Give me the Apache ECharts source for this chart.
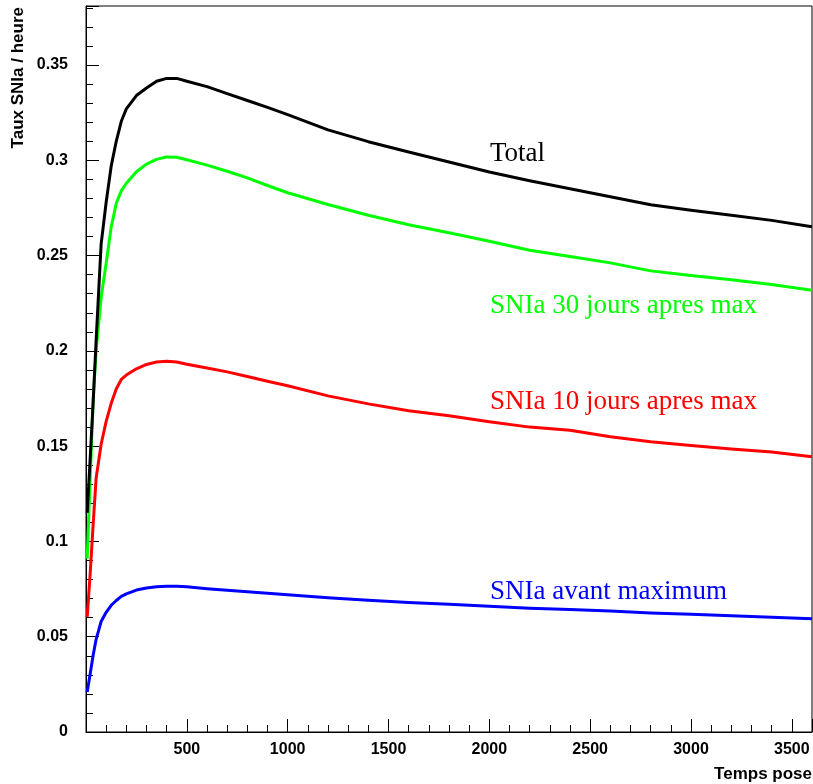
<!DOCTYPE html>
<html>
<head>
<meta charset="utf-8">
<script src="https://cdn.jsdelivr.net/npm/echarts@6/dist/echarts.min.js"></script>
<style>html,body{margin:0;padding:0;background:#fff;}#c{width:813px;height:784px;}</style>
</head>
<body>
<div id="c"></div>
<script>
const timeX = [6, 20, 35, 50, 75, 100, 125, 150, 175, 200, 250, 300, 350, 400, 450, 500, 600, 700, 800, 900, 1000, 1200, 1400, 1600, 1800, 2000, 2200, 2400, 2600, 2800, 3000, 3200, 3400, 3600];
const totalY = [0.115, 0.142, 0.172, 0.205, 0.256, 0.278, 0.297, 0.310, 0.3205, 0.327, 0.334, 0.338, 0.3415, 0.343, 0.343, 0.3415, 0.3387, 0.335, 0.3314, 0.3278, 0.324, 0.316, 0.3098, 0.3044, 0.2991, 0.2939, 0.2893, 0.2851, 0.2809, 0.2767, 0.2738, 0.2712, 0.2685, 0.2651];
const jours30Y = [0.091, 0.131, 0.173, 0.200, 0.228, 0.246, 0.265, 0.2775, 0.284, 0.288, 0.294, 0.298, 0.3005, 0.3018, 0.3016, 0.3003, 0.2975, 0.2943, 0.2908, 0.2868, 0.283, 0.2768, 0.2712, 0.2662, 0.262, 0.2575, 0.2528, 0.2495, 0.2462, 0.242, 0.2396, 0.2373, 0.2349, 0.2318];
const jours10Y = [0.0604, 0.082, 0.108, 0.133, 0.151, 0.163, 0.1725, 0.180, 0.185, 0.1873, 0.1906, 0.1929, 0.1942, 0.1946, 0.1942, 0.193, 0.191, 0.189, 0.1866, 0.1841, 0.1817, 0.1764, 0.1722, 0.1686, 0.166, 0.1628, 0.160, 0.1584, 0.155, 0.1523, 0.1504, 0.1485, 0.147, 0.1444];
const avantY = [0.021, 0.030, 0.040, 0.0485, 0.058, 0.0628, 0.0665, 0.069, 0.0712, 0.0725, 0.0745, 0.0756, 0.0762, 0.0765, 0.0765, 0.0762, 0.0752, 0.0744, 0.0736, 0.0728, 0.072, 0.0705, 0.0692, 0.068, 0.067, 0.066, 0.065, 0.0643, 0.0635, 0.0625, 0.0618, 0.061, 0.0602, 0.0594];
const seriesNames = ['Total', 'SNIa 30 jours apres max', 'SNIa 10 jours apres max', 'SNIa avant maximum'];
const seriesColors = ['#000000', '#00ff00', '#ff0000', '#0000ff'];
const xTitle = 'Temps pose';
const yTitle = 'Taux SNIa / heure';

const allY = [totalY, jours30Y, jours10Y, avantY];
const chart = echarts.init(document.getElementById('c'), null, {renderer: 'canvas'});
const labelFont = {fontFamily: 'Liberation Sans, Arial, sans-serif', fontWeight: 'bold', fontSize: 16, color: '#000'};
const labelYs = [152, 304, 400, 590];

chart.setOption({
  animation: false,
  backgroundColor: '#fff',
  grid: {left: 86, right: 1, top: 6, bottom: 52, show: true, borderColor: '#000', borderWidth: 1, backgroundColor: 'transparent', containLabel: false, outerBoundsMode: 'none'},
  xAxis: {
    type: 'value', min: 0, max: 3600, interval: 500,
    axisLine: {show: true, lineStyle: {color: '#000', width: 1}},
    axisTick: {show: true, inside: true, length: 13, lineStyle: {color: '#000'}},
    minorTick: {show: true, splitNumber: 5, length: 7, lineStyle: {color: '#000'}},
    splitLine: {show: false},
    axisLabel: Object.assign({margin: 10, showMinLabel: false, showMaxLabel: false, formatter: v => String(v)}, labelFont)
  },
  yAxis: {
    type: 'value', min: 0, max: 0.381, interval: 0.05,
    axisLine: {show: true, lineStyle: {color: '#000', width: 1}},
    axisTick: {show: true, inside: true, length: 13, lineStyle: {color: '#000'}},
    minorTick: {show: true, splitNumber: 5, length: 7, lineStyle: {color: '#000'}},
    splitLine: {show: false},
    axisLabel: Object.assign({margin: 18, showMaxLabel: false, formatter: v => String(+v.toFixed(2))}, labelFont)
  },
  series: allY.map((ys, i) => ({
    type: 'line', name: seriesNames[i],
    data: timeX.map((x, j) => [x, ys[j]]),
    showSymbol: false, smooth: false,
    lineStyle: {color: seriesColors[i], width: 3, join: 'round'},
    z: 10 - i
  })),
  graphic: [
    ...seriesNames.map((n, i) => ({
      type: 'text', left: 490, top: labelYs[i] - 12,
      style: {text: n, fill: seriesColors[i], font: '27px "Liberation Serif", "Times New Roman", serif'}
    })),
    {type: 'text', right: 1, top: 766, style: {text: xTitle, fill: '#000', font: 'bold 17px "Liberation Sans", Arial, sans-serif'}},
    {type: 'text', x: 18, y: 7, rotation: Math.PI / 2,
      style: {text: yTitle, fill: '#000', font: 'bold 17px "Liberation Sans", Arial, sans-serif', align: 'right', verticalAlign: 'middle'}}
  ]
});
</script>
</body>
</html>
